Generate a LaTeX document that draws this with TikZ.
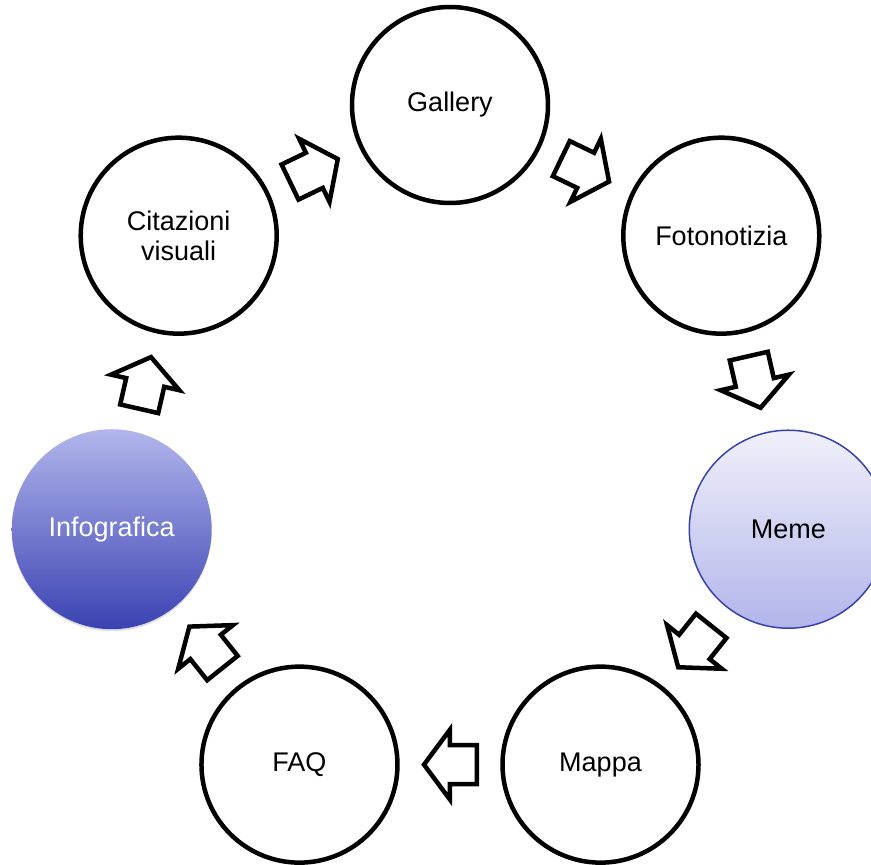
\documentclass[tikz,border=0pt]{standalone}
\usepackage{fontspec}
\setmainfont{Liberation Sans}
\usetikzlibrary{calc,shadows}
\definecolor{infotop}{RGB}{178,182,236}
\definecolor{infobot}{RGB}{58,66,178}
\definecolor{memetop}{RGB}{240,240,251}
\definecolor{memebot}{RGB}{178,181,234}
\definecolor{memeline}{RGB}{58,66,170}

\begin{document}
\begin{tikzpicture}
  [x=1pt, y=1pt, font=\fontsize{27}{30}\selectfont,
  bubble/.style={circle, draw, line width=4.5pt, fill=white, minimum size=196pt, align=center, inner sep=0pt},
  infobubble/.style={bubble, draw=none, minimum size=200pt, top color=infotop, bottom color=infobot, text=white,
    drop shadow={opacity=0.25, shadow xshift=0pt, shadow yshift=-2pt}},
  memebubble/.style={bubble, line width=1.5pt, draw=memeline, minimum size=198pt, top color=memetop, bottom color=memebot},
  flow/.pic={\draw[line width=4.5pt, fill=white] (-27,19.5) -- (0,19.5) -- (0,35) -- (26,0) -- (0,-35) -- (0,-19.5) -- (-27,-19.5) -- cycle;}]
  \useasboundingbox (-450,-413) rectangle (421,452);
  % ring of formats
  \node[bubble] (gallery) at (90:347) {Gallery};
  \node[bubble] (foto) at (38.57:347) {Fotonotizia};
  \node[memebubble] (meme) at (-12.86:347) {Meme};
  \node[bubble] (mappa) at (-64.29:347) {Mappa};
  \node[bubble] (faq) at (-115.71:347) {FAQ};
  \node[infobubble] (info) at (-167.14:347) {Infografica};
  \node[bubble] (citazioni) at (141.43:347) {Citazioni\\visuali};
  % block arrows between neighbours
  \pic[rotate=-25.71] at ($(gallery)!0.5!(foto)$) {flow};
  \pic[rotate=-77.14] at ($(foto)!0.5!(meme)$) {flow};
  \pic[rotate=-128.57] at ($(meme)!0.5!(mappa)$) {flow};
  \pic[rotate=180] at ($(mappa)!0.5!(faq)$) {flow};
  \pic[rotate=128.57] at ($(faq)!0.5!(info)$) {flow};
  \pic[rotate=77.14] at ($(info)!0.5!(citazioni)$) {flow};
  \pic[rotate=25.71] at ($(citazioni)!0.5!(gallery)$) {flow};
\end{tikzpicture}
\end{document}
